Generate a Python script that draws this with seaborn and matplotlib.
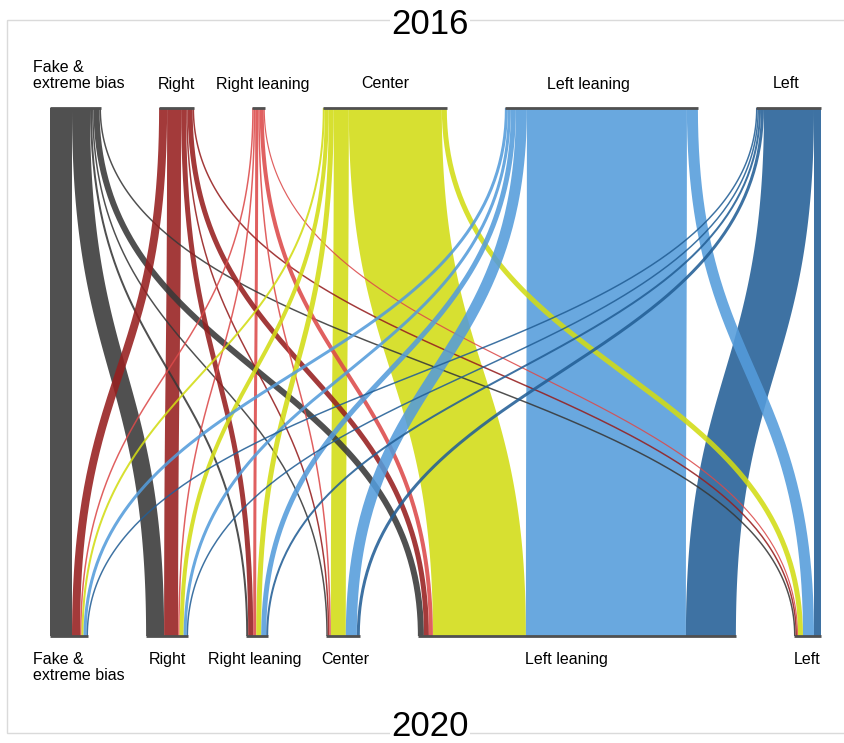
import matplotlib as mpl
mpl.use('Agg')
import numpy as np
import seaborn as sns
import matplotlib.pyplot as plt
from matplotlib.patches import Rectangle

sns.set_theme(style="white")
plt.rcParams['font.family'] = ['Liberation Sans', 'DejaVu Sans']

# categories, same order for 2016 (top) and 2020 (bottom)
categories = ["Fake & extreme bias", "Right", "Right leaning", "Center", "Left leaning", "Left"]
top_labels = ["Fake &\nextreme bias", "Right", "Right leaning", "Center", "Left leaning", "Left"]
bottom_labels = ["Fake &\nextreme bias", "Right", "Right leaning", "Center", "Left leaning", "Left"]

# flows from each 2016 category into the 2020 categories (same order as categories)
fake_2016 = [22, 18, 2, 1.5, 6, 1.5]
right_2016 = [8, 14, 5, 1.5, 5, 1.5]
right_leaning_2016 = [1.5, 1.5, 3, 1.5, 4, 1]
center_2016 = [2, 4, 5, 15, 93, 5]
left_leaning_2016 = [3, 3, 5, 11, 160, 11]
left_2016 = [1.5, 1.5, 2, 3, 50, 7]

colors = ["#383838", "#961f1f", "#dc4a4a", "#d2dc14", "#549cdb", "#235f96"]

# layout
X0 = 50
GAP = 58.1
Y_TOP, Y_BOT = 108, 636
ALPHA = 0.88
STROKE_MAX = 15
top_label_dx = [0, 0, 4.5, 0, -13, -2]
bot_label_dx = [0, 0, -2, 2, -10, 0]

flows = np.array([fake_2016, right_2016, right_leaning_2016,
                  center_2016, left_leaning_2016, left_2016])
n = len(categories)
top_tot = flows.sum(axis=1)
bot_tot = flows.sum(axis=0)


def node_starts(totals):
    starts = []
    x = X0
    for v in totals:
        starts.append(x)
        x += v + GAP
    return np.array(starts)


top_start = node_starts(top_tot)
bot_start = node_starts(bot_tot)


def bez(a, b, mid, t):
    return a * (1 - t) ** 3 + 3 * (1 - t) ** 2 * t * mid[0] + 3 * (1 - t) * t ** 2 * mid[1] + b * t ** 3


def band(ax, xt0, xt1, xb0, xb1, color):
    t = np.linspace(0, 1, 160)
    ymid = (Y_TOP + Y_BOT) / 2
    y = bez(Y_TOP, Y_BOT, (ymid, ymid), t)
    w = xt1 - xt0
    shift = abs((xb0 + xb1) / 2 - (xt0 + xt1) / 2)
    if w < STROKE_MAX and shift > 2 * w:
        # narrow slanted flows: constant-thickness stroke along the centre line
        xc = bez((xt0 + xt1) / 2, (xb0 + xb1) / 2, ((xt0 + xt1) / 2, (xb0 + xb1) / 2), t)
        ax.plot(xc, y, color=color, alpha=ALPHA, lw=max(w, 1.2) * 0.72,
                solid_capstyle='butt', solid_joinstyle='round')
    else:
        xl = bez(xt0, xb0, (xt0, xb0), t)
        xr = bez(xt1, xb1, (xt1, xb1), t)
        ax.fill(np.concatenate([xl, xr[::-1]]), np.concatenate([y, y[::-1]]),
                color=color, alpha=ALPHA, lw=0)


fig = plt.figure(figsize=(8.44, 7.43), dpi=100)
ax = fig.add_axes([0, 0, 1, 1])
ax.set_xlim(0, 844)
ax.set_ylim(743, 0)
ax.axis('off')

ax.add_patch(Rectangle((7, 20), 845, 713, fill=False, edgecolor="#dadada", lw=1))

# offsets inside each node: ordered by target at the top, by source at the bottom
top_off = top_start.copy()
bot_off = bot_start.copy()
top_pos = np.zeros((n, n))
bot_pos = np.zeros((n, n))
for i in range(n):
    for j in range(n):
        top_pos[i, j] = top_off[i]
        top_off[i] += flows[i, j]
for j in range(n):
    for i in range(n):
        bot_pos[i, j] = bot_off[j]
        bot_off[j] += flows[i, j]

for i in range(n):
    for j in range(n):
        w = flows[i, j]
        band(ax, top_pos[i, j], top_pos[i, j] + w, bot_pos[i, j], bot_pos[i, j] + w, colors[i])

# node bars
for i in range(n):
    ax.plot([top_start[i], top_start[i] + top_tot[i]], [Y_TOP, Y_TOP], color="#505050", lw=2, solid_capstyle='butt')
    ax.plot([bot_start[i], bot_start[i] + bot_tot[i]], [Y_BOT, Y_BOT], color="#505050", lw=2, solid_capstyle='butt')

# labels
for i in range(n):
    if i == 0:
        ax.text(33, 91.5, top_labels[i], ha='left', va='bottom', fontsize=11.5, color='black', linespacing=1.1)
        ax.text(33, 652, bottom_labels[i], ha='left', va='top', fontsize=11.5, color='black', linespacing=1.1)
    else:
        ax.text(top_start[i] + top_tot[i] / 2 + top_label_dx[i], 91.5, top_labels[i],
                ha='center', va='bottom', fontsize=11.5, color='black')
        ax.text(bot_start[i] + bot_tot[i] / 2 + bot_label_dx[i], 652, bottom_labels[i],
                ha='center', va='top', fontsize=11.5, color='black')

box = dict(facecolor='white', edgecolor='none', pad=1)
ax.text(430, 24.5, "2016", ha='center', va='center', fontsize=25, color='black', bbox=box)
ax.text(430, 727, "2020", ha='center', va='center', fontsize=25, color='black', bbox=box)

fig.savefig("out.png", dpi=100)
